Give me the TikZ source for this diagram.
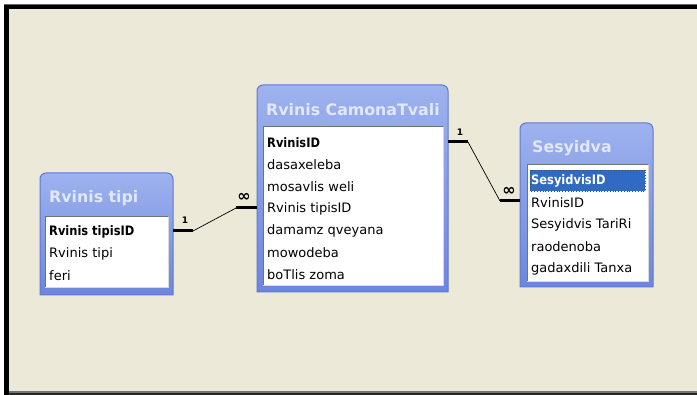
\documentclass[tikz,border=0pt]{standalone}
\usepackage{fontspec}
\setmainfont{DejaVu Sans}
\newfontfamily\keyfont[FakeStretch=0.88]{DejaVu Sans}
\usetikzlibrary{calc}
\definecolor{beige}{RGB}{236,233,216}
\definecolor{boxedge}{RGB}{95,120,210}
\definecolor{boxtop}{RGB}{158,178,238}
\definecolor{boxbot}{RGB}{108,134,221}
\definecolor{titletxt}{RGB}{225,232,250}
\definecolor{selblue}{RGB}{49,106,197}
\tikzset{
  tblbox/.style={inner sep=0pt, outer sep=0pt, draw=none},
  ttl/.style={anchor=west, inner sep=0pt, font=\fontsize{15.8}{16}\selectfont\bfseries, text=titletxt},
  fld/.style={anchor=west, inner sep=0pt, font=\fontsize{13}{13}\selectfont, text=black},
  keyfld/.style={anchor=west, inner sep=0pt, font=\fontsize{13}{13}\selectfont\keyfont\bfseries, text=black},
  card/.style={font=\fontsize{9}{9}\selectfont\bfseries, inner sep=0pt},
  cardm/.style={font=\fontsize{16}{16}\selectfont\bfseries, inner sep=0pt},
  thickend/.style={line width=3pt},
  thinrel/.style={line width=0.7pt},
}
\newcommand{\tablebody}[1]{%
  \shade[top color=boxtop, bottom color=boxbot, draw=boxedge, line width=1pt]
    (#1.south west) -- ([yshift=-6pt]#1.north west)
    arc[start angle=180, end angle=90, radius=6pt]
    -- ([xshift=-6pt]#1.north east)
    arc[start angle=90, end angle=0, radius=6pt]
    -- (#1.south east) -- cycle;}
\newcommand{\whitelist}[4]{%
  \fill[white] (#1,#2) rectangle (#3,#4);
  \draw[black!55, line width=1pt] (#1,#4) -- (#1,#2) -- (#3,#2);
  \draw[black!15, line width=1pt] (#1,#4) -- (#3,#4) -- (#3,#2);}
\begin{document}
\begin{tikzpicture}[x=1pt, y=-1pt]
\useasboundingbox (0,0) rectangle (697,395);
% frame
\fill[white] (0,0) rectangle (697,395);
\fill[beige] (9,9) rectangle (697,391);
\fill[black!60] (4,4) rectangle (697,5);
\fill[black] (4,5) rectangle (697,9);
\fill[black] (4,5) rectangle (9,395);
\fill[black!55] (9,391) rectangle (697,393);
\fill[black!85] (9,393) rectangle (697,395);

% ---- table 1: Rvinis tipi
\node[tblbox, minimum width=133pt, minimum height=122pt] (tipi) at (106.5,234) {};
\tablebody{tipi}
\whitelist{45}{217}{168}{288}
\node[ttl] (tipiT) at (49,198) {Rvinis tipi};
\node[keyfld] (tipi1) at (49,232) {Rvinis tipisID};
\node[fld] (tipi2) at (49,254) {Rvinis tipi};
\node[fld] (tipi3) at (49,276) {feri};

% ---- table 2: Rvinis CamonaTvali
\node[tblbox, minimum width=191pt, minimum height=207pt] (cam) at (352.5,188.5) {};
\tablebody{cam}
\whitelist{263}{127}{443}{286}
\node[ttl] (camT) at (266,110) {Rvinis CamonaTvali};
\node[keyfld] (cam1) at (267,143) {RvinisID};
\node[fld] (cam2) at (267,165) {dasaxeleba};
\node[fld] (cam3) at (267,187) {mosavlis weli};
\node[fld] (cam4) at (267,209) {Rvinis tipisID};
\node[fld] (cam5) at (267,231) {damamz qveyana};
\node[fld] (cam6) at (267,253) {mowodeba};
\node[fld] (cam7) at (267,275) {boTlis zoma};

% ---- table 3: Sesyidva
\node[tblbox, minimum width=133pt, minimum height=164pt] (ses) at (586.5,205) {};
\tablebody{ses}
\whitelist{527}{165}{648}{282}
\node[ttl] (sesT) at (532,148) {Sesyidva};
\fill[selblue] (530,170) rectangle (645,191);
\draw[black!70, dotted, line width=0.8pt] (530,170) rectangle (645,191);
\node[keyfld, text=white] (ses1) at (531,181) {SesyidvisID};
\node[fld] (ses2) at (531,203) {RvinisID};
\node[fld] (ses3) at (531,225) {Sesyidvis TariRi};
\node[fld] (ses4) at (531,247) {raodenoba};
\node[fld] (ses5) at (531,269) {gadaxdili Tanxa};

% ---- relationship 1: tipi (1) -- cam (many)
\coordinate (r1a) at ($(tipi.east |- tipi1.center)+(0,-1)$);
\coordinate (r1b) at ($(cam.west |- cam4.center)+(0,-1)$);
\draw[thickend] (r1a) -- ++(20,0) coordinate (r1a2);
\draw[thickend] (r1b) -- ++(-21,0) coordinate (r1b2);
\draw[thinrel] (r1a2) -- (r1b2);
\node[card] (c11) at (185,220) {1};
\node[cardm] (c1m) at (244,197) {∞};

% ---- relationship 2: cam (1) -- ses (many)
\coordinate (r2a) at ($(cam.east |- cam1.center)+(0,-1)$);
\coordinate (r2b) at ($(ses.west |- ses2.center)+(0,-2)$);
\draw[thickend] (r2a) -- ++(20,0) coordinate (r2a2);
\draw[thickend] (r2b) -- ++(-20,0) coordinate (r2b2);
\draw[thinrel] (r2a2) -- (r2b2);
\node[card] (c21) at (460,132) {1};
\node[cardm] (c2m) at (509,191) {∞};
\end{tikzpicture}
\end{document}
